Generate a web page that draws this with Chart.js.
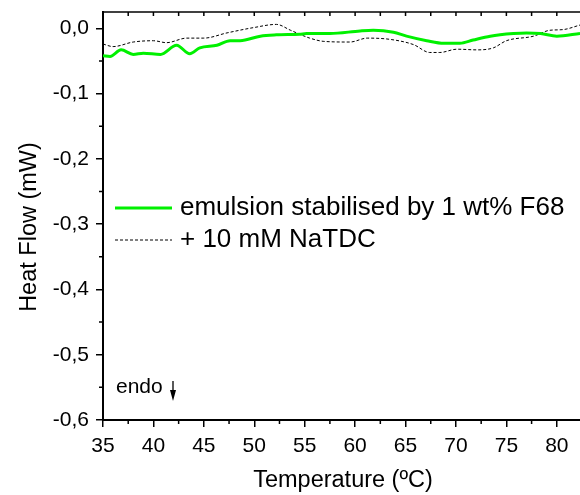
<!DOCTYPE html>
<html>
<head>
<meta charset="utf-8">
<script src="https://cdn.jsdelivr.net/npm/chart.js@4.4.1/dist/chart.umd.min.js"></script>
<style>
  body { margin: 0; background: #fff; }
  canvas { display: block; }
</style>
</head>
<body>
<canvas id="myChart" width="580" height="495"></canvas>
<script>
/* values */
var tempF68 = [35.0, 35.7, 36.8, 38.0, 39.0, 40.7, 42.3, 43.6, 44.6, 46.3, 47.6, 48.6, 50.6, 52.2, 54.5, 55.2, 57.5, 60.5, 61.8, 63.8, 65.1, 67.1, 68.8, 70.4, 71.7, 73.4, 75.7, 77.0, 78.4, 80.0, 82.3];
var flowF68 = [-0.042, -0.043, -0.033, -0.040, -0.038, -0.040, -0.026, -0.039, -0.030, -0.026, -0.019, -0.019, -0.012, -0.010, -0.009, -0.008, -0.008, -0.004, -0.003, -0.006, -0.012, -0.019, -0.023, -0.023, -0.018, -0.012, -0.008, -0.007, -0.008, -0.012, -0.008];

var tempNaTDC = [35.0, 36.0, 38.0, 40.0, 41.3, 43.3, 45.0, 47.3, 49.9, 52.2, 53.6, 54.5, 55.5, 56.9, 59.5, 61.2, 63.5, 65.8, 67.4, 68.4, 70.1, 72.1, 73.7, 75.0, 77.7, 79.3, 80.6, 82.3];
var flowNaTDC = [-0.024, -0.028, -0.021, -0.019, -0.022, -0.015, -0.015, -0.007, 0.001, 0.006, -0.003, -0.009, -0.015, -0.020, -0.021, -0.015, -0.017, -0.025, -0.037, -0.037, -0.032, -0.033, -0.030, -0.019, -0.012, -0.003, -0.002, 0.005];

var seriesLabels = ['emulsion stabilised by 1 wt% F68', '+ 10 mM NaTDC'];
var xTicks = [35, 40, 45, 50, 55, 60, 65, 70, 75, 80];
var yTicks = [0, -0.1, -0.2, -0.3, -0.4, -0.5, -0.6];
var xMinor = [37.5, 42.5, 47.5, 52.5, 57.5, 62.5, 67.5, 72.5, 77.5];
var yMinor = [-0.05, -0.15, -0.25, -0.35, -0.45, -0.55];

var FONT = "'Liberation Sans', Arial, sans-serif";
Chart.defaults.font.family = FONT;
Chart.defaults.color = '#000';

function toPoints(xs, ys) {
  return xs.map(function (x, i) { return { x: x, y: ys[i] }; });
}

function commaLabel(v) {
  if (Math.abs(v) < 1e-9) v = 0;
  return v.toFixed(1).replace('.', ',');
}

// frame, minor ticks, legend and notes
var extras = {
  id: 'extras',
  afterDraw: function (chart) {
    var ctx = chart.ctx;
    var a = chart.chartArea;
    var xs = chart.scales.x;
    var ys = chart.scales.y;

    ctx.save();
    ctx.strokeStyle = '#000';
    ctx.lineWidth = 1.5;

    // top frame line
    ctx.beginPath();
    ctx.moveTo(a.left, a.top);
    ctx.lineTo(a.right, a.top);
    ctx.stroke();

    ctx.beginPath();
    // minor ticks on bottom axis
    xMinor.forEach(function (t) {
      var px = xs.getPixelForValue(t);
      ctx.moveTo(px, a.bottom);
      ctx.lineTo(px, a.bottom + 4);
    });
    // small inward ticks on the top frame
    xTicks.concat(xMinor).forEach(function (t) {
      var px = xs.getPixelForValue(t);
      ctx.moveTo(px, a.top);
      ctx.lineTo(px, a.top + 4);
    });
    // minor ticks on left axis
    yMinor.forEach(function (v) {
      var py = ys.getPixelForValue(v);
      ctx.moveTo(a.left - 4, py);
      ctx.lineTo(a.left, py);
    });
    ctx.stroke();

    // legend
    ctx.font = '26px ' + FONT;
    ctx.textBaseline = 'middle';
    ctx.textAlign = 'left';
    ctx.fillStyle = '#000';
    chart.data.datasets.forEach(function (ds, i) {
      var y = 208 + i * 32;
      ctx.save();
      ctx.strokeStyle = ds.borderColor;
      ctx.lineWidth = ds.borderWidth;
      ctx.setLineDash(ds.borderDash || []);
      ctx.beginPath();
      ctx.moveTo(115, y);
      ctx.lineTo(172, y);
      ctx.stroke();
      ctx.restore();
      ctx.fillText(ds.label, 180, y);
    });

    // endo note with arrow
    ctx.font = '21px ' + FONT;
    ctx.fillText('endo', 116, 387);
    ctx.lineWidth = 1.3;
    ctx.beginPath();
    ctx.moveTo(173, 381);
    ctx.lineTo(173, 392);
    ctx.stroke();
    ctx.beginPath();
    ctx.moveTo(170, 390);
    ctx.lineTo(176, 390);
    ctx.lineTo(173, 401);
    ctx.closePath();
    ctx.fill();

    // axis titles
    ctx.font = '23.5px ' + FONT;
    ctx.textAlign = 'center';
    ctx.fillText('Temperature (ºC)', 343, 481);
    ctx.translate(30, 227);
    ctx.rotate(-Math.PI / 2);
    ctx.fillText('Heat Flow (mW)', 0, 0);
    ctx.restore();
  }
};

var ctx = document.getElementById('myChart').getContext('2d');
new Chart(ctx, {
  type: 'line',
  data: {
    datasets: [
      {
        label: seriesLabels[0],
        data: toPoints(tempF68, flowF68),
        borderColor: '#00f000',
        borderWidth: 3,
        pointRadius: 0,
        cubicInterpolationMode: 'monotone',
      },
      {
        label: seriesLabels[1],
        data: toPoints(tempNaTDC, flowNaTDC),
        borderColor: '#000',
        borderWidth: 1,
        borderDash: [3, 2],
        pointRadius: 0,
        cubicInterpolationMode: 'monotone',
      },
    ],
  },
  options: {
    responsive: false,
    animation: false,
    devicePixelRatio: 1,
    layout: { padding: { top: 12, right: 0, left: 0, bottom: 0 } },
    plugins: { legend: { display: false }, tooltip: { enabled: false } },
    scales: {
      x: {
        type: 'linear',
        min: 35,
        max: 82.3,
        afterBuildTicks: function (scale) {
          scale.ticks = xTicks.map(function (v) { return { value: v }; });
        },
        afterFit: function (scale) {
          scale.height = 75;
          scale.paddingLeft = 0;
          scale.paddingRight = 0;
        },
        grid: { display: true, drawOnChartArea: false, drawTicks: true, tickLength: 7, color: '#000', lineWidth: 1.5 },
        border: { display: true, color: '#000', width: 2 },
        ticks: { font: { size: 21 }, color: '#000', padding: 7, maxRotation: 0, autoSkip: false },
      },
      y: {
        type: 'linear',
        min: -0.6,
        max: 0.025,
        afterBuildTicks: function (scale) {
          scale.ticks = yTicks.map(function (v) { return { value: v }; });
        },
        afterFit: function (scale) {
          scale.width = 103;
          scale.paddingTop = 0;
          scale.paddingBottom = 0;
        },
        grid: { display: true, drawOnChartArea: false, drawTicks: true, tickLength: 7, color: '#000', lineWidth: 1.5 },
        border: { display: true, color: '#000', width: 2 },
        ticks: {
          font: { size: 21 },
          color: '#000',
          padding: 7,
          autoSkip: false,
          callback: function (v) { return commaLabel(v); },
        },
      },
    },
  },
  plugins: [extras],
});
</script>
</body>
</html>
